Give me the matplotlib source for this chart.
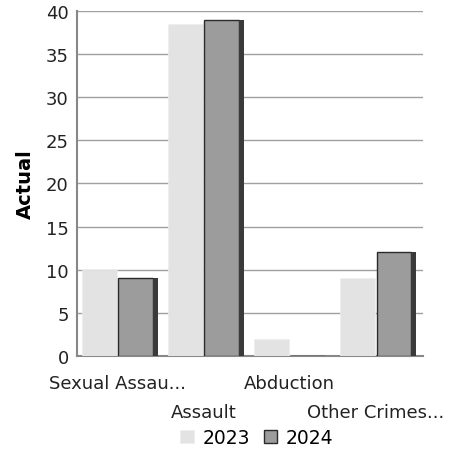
import numpy as np
import matplotlib.pyplot as plt

categories = ["Sexual Assau...", "Assault", "Abduction", "Other Crimes..."]
years = ["2023", "2024"]
vals_2023 = [10, 38.5, 2, 9]
vals_2024 = [9, 39, 0, 12]

fig = plt.figure(figsize=(4.51, 4.64), dpi=100)
ax = fig.add_axes([0.171, 0.231, 0.767, 0.743])

x = np.arange(len(categories))
w = 0.4
depth = 0.06

ax.bar(x - w / 2 - 0.01, vals_2023, w, color="#e3e3e3", edgecolor="#eeeeee",
       linewidth=0.5, zorder=3, label=years[0])
ax.bar(x + w / 2 + 0.01, vals_2024, w, color="#9c9c9c", edgecolor="#2a2a2a",
       linewidth=1.0, zorder=3, label=years[1])
# dark side face for the 3d look
ax.bar(x + w + 0.01 + depth / 2, vals_2024, depth, color="#3a3a3a",
       linewidth=0, zorder=3)

ax.set_xlim(-0.47, 3.55)
ax.set_ylim(0, 40)
ax.set_yticks(range(0, 41, 5))
ax.yaxis.grid(True, color="#a0a0a0", linewidth=1.0, zorder=0)
ax.tick_params(axis="y", length=0, labelsize=13, pad=6, labelcolor="#222222")
ax.tick_params(axis="x", length=0)
ax.set_xticks(x)
ax.set_xticklabels([])
for i, c in enumerate(categories):
    off = -0.054 if i % 2 == 0 else -0.137
    ax.text(x[i], off, c, transform=ax.get_xaxis_transform(),
            ha="center", va="top", fontsize=13, color="#222222")

for s in ["top", "right"]:
    ax.spines[s].set_visible(False)
ax.spines["left"].set_color("#888888")
ax.spines["left"].set_linewidth(1.5)
ax.spines["bottom"].set_color("#888888")
ax.spines["bottom"].set_linewidth(1.5)

ax.set_ylabel("Actual", fontsize=14, fontweight="bold", labelpad=8)

fig.legend(loc="center", bbox_to_anchor=(0.57, 0.055), ncol=2, frameon=False,
           fontsize=13.5, handlelength=0.7, handleheight=0.7, columnspacing=0.7,
           handletextpad=0.5)

fig.savefig("out.png", dpi=100)
